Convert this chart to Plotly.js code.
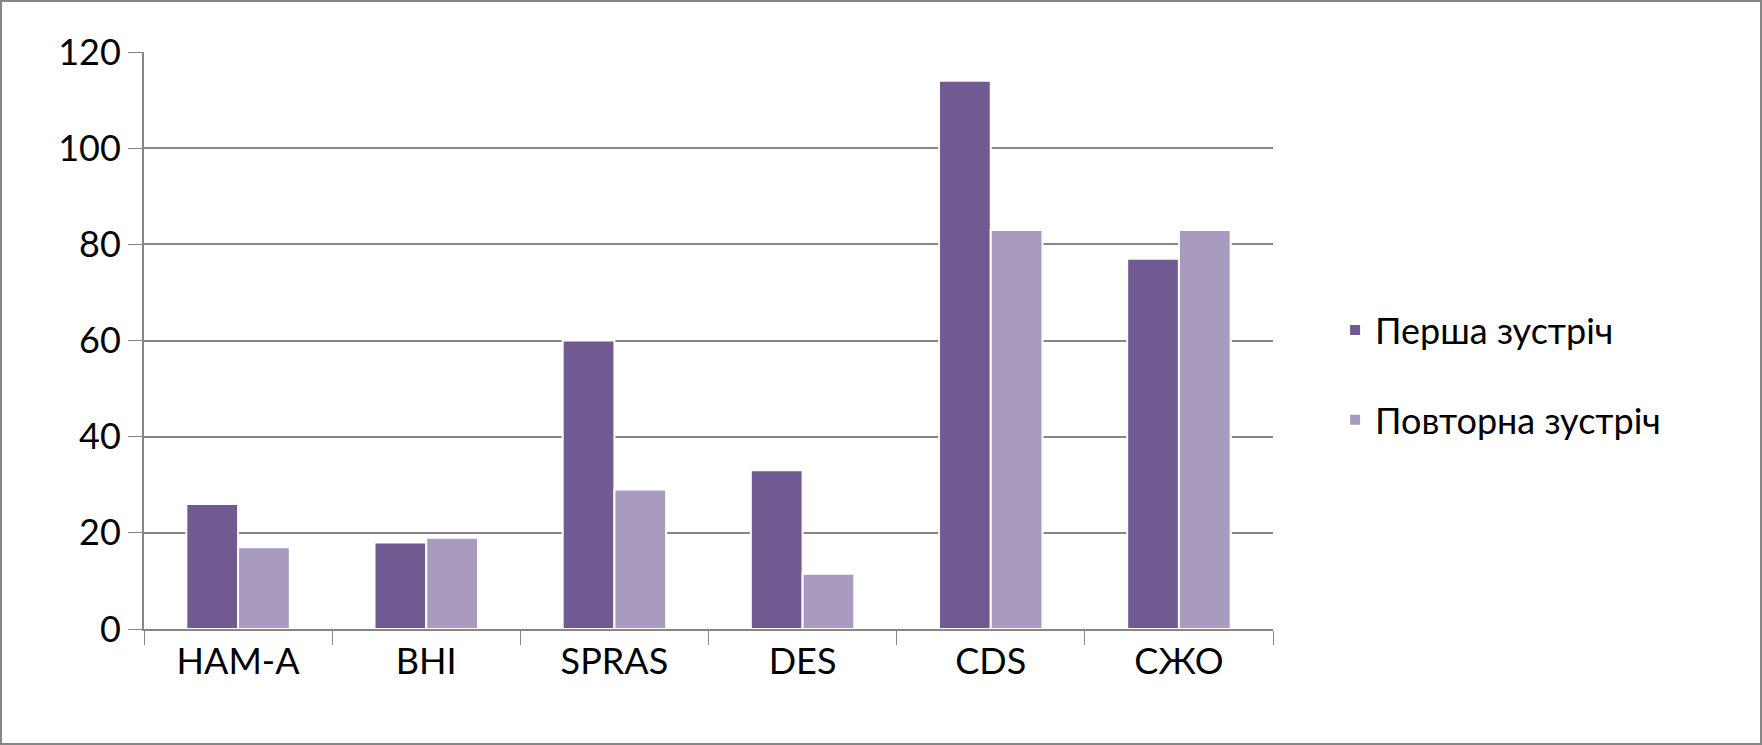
<!DOCTYPE html>
<html><head><meta charset="utf-8">
<script src="https://cdn.plot.ly/plotly-3.0.1.min.js"></script>
<style>html,body{margin:0;padding:0;background:#fff}#c{width:1762px;height:745px;box-sizing:border-box;border:2px solid #868686}</style>
</head><body><div id="c"></div>
<script>
const categories = ["HAM-A","BHI","SPRAS","DES","CDS","СЖО"];
const firstMeeting = [26,18,60,33,114,77];
const repeatMeeting = [17,19,29,11.5,83,83];
const seriesNames = ["Перша зустріч","Повторна зустріч"];
const font = {family:"Lato, 'Open Sans', sans-serif", size:36, color:"#000"};
const data = [
 {type:"bar", x:categories, y:firstMeeting, name:seriesNames[0], legendgroup:"a",
  marker:{color:"#715991", line:{color:"#fff", width:2}}},
 {type:"bar", x:categories, y:repeatMeeting, name:seriesNames[1], legendgroup:"b",
  marker:{color:"#A99BBF", line:{color:"#fff", width:2}}}
];
const layout = {
 width:1758, height:741, margin:{l:142,r:487,t:50,b:114},
 font:font, barmode:"group", bargap:0.45, bargroupgap:0,
 paper_bgcolor:"#fff", plot_bgcolor:"#fff",
 xaxis:{type:"category", tickson:"boundaries", ticks:"outside", ticklen:14, tickcolor:"#868686",
   showline:true, linecolor:"#868686", linewidth:2, showgrid:false, tickfont:font},
 yaxis:{range:[0,120], dtick:20, showgrid:true, gridcolor:"#868686", gridwidth:2,
   showline:true, linecolor:"#868686", linewidth:2, ticks:"outside", ticklen:14, tickcolor:"#868686",
   zeroline:false, tickfont:font},
 showlegend:true,
 legend:{x:1.055, y:0.44, yanchor:"middle", xanchor:"left", font:font, tracegroupgap:40, itemwidth:30}
};
Plotly.newPlot("c", data, layout, {displayModeBar:false});
</script></body></html>
